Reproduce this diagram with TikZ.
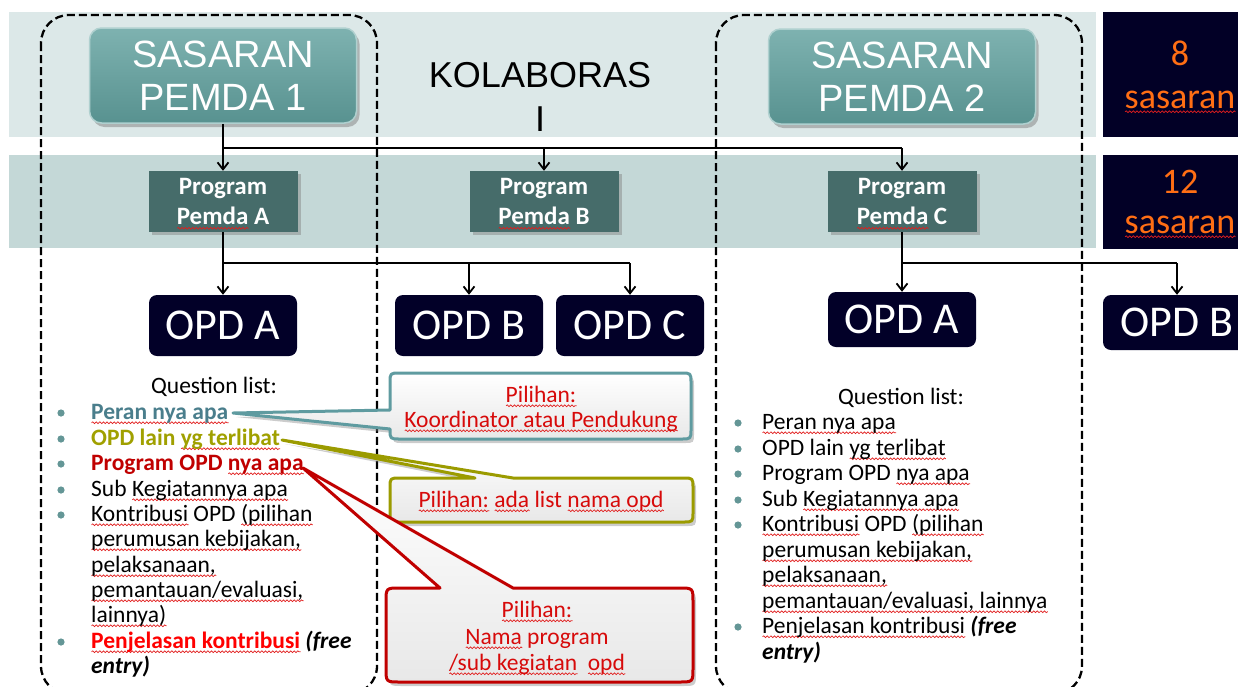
\documentclass[tikz,border=0pt]{standalone}
\usepackage{fontspec}
\setmainfont{Carlito}
\newfontfamily\arialf{Liberation Sans}
\usetikzlibrary{arrows.meta,shadows,decorations.pathmorphing}
\definecolor{bandA}{RGB}{220,232,232}
\definecolor{bandB}{RGB}{196,216,215}
\definecolor{navyc}{RGB}{2,0,40}
\definecolor{navyr}{RGB}{2,0,38}
\definecolor{progc}{RGB}{70,108,106}
\definecolor{sastop}{RGB}{126,178,176}
\definecolor{sasbot}{RGB}{88,146,144}
\definecolor{sasedge}{RGB}{175,208,207}
\definecolor{orangec}{RGB}{255,110,20}
\definecolor{sqred}{RGB}{225,30,30}
\definecolor{tealt}{RGB}{74,126,140}
\definecolor{olivet}{RGB}{160,160,0}
\definecolor{dred}{RGB}{192,0,0}
\definecolor{bred}{RGB}{255,0,0}
\definecolor{cred}{RGB}{215,10,10}
\definecolor{bulc}{RGB}{100,150,150}
\definecolor{tealb}{RGB}{95,155,160}
\definecolor{oliveb}{RGB}{155,155,0}
\definecolor{redb}{RGB}{192,0,0}
\newlength\sqw
\newcommand\sq[1]{\setbox0\hbox{#1}\sqw=\wd0\relax\leavevmode\rlap{\raisebox{-5pt}[0pt][0pt]{\tikz[x=1pt,y=1pt]\draw[sqred,line width=0.7pt,decorate,decoration={snake,amplitude=0.9pt,segment length=3.6pt}] (0,0) -- (\sqw,0);}}\box0\relax}
\newcommand\fq{\fontsize{23.5pt}{25.4pt}\selectfont}
\begin{document}
\begin{tikzpicture}[x=1pt,y=-1pt,
  sasbox/.style={rounded corners=12pt, top color=sastop, bottom color=sasbot, draw=sasedge, line width=1.5pt,
    text=white, font=\arialf\fontsize{38pt}{43pt}\selectfont, align=center,
    minimum width=267pt, minimum height=95pt, inner sep=0pt,
    drop shadow={shadow xshift=3pt, shadow yshift=-4pt, opacity=.5}},
  progbox/.style={fill=progc, text=white, font=\fontsize{25pt}{30pt}\selectfont\bfseries, align=center,
    minimum width=149pt, minimum height=61pt, inner sep=0pt,
    drop shadow={shadow xshift=3pt, shadow yshift=-3pt, opacity=.45}},
  opdbox/.style={fill=navyc, rounded corners=8pt, text=white, font=\fontsize{44pt}{50pt}\selectfont,
    minimum width=148pt, minimum height=61pt, inner sep=0pt},
  numtxt/.style={anchor=base, inner sep=0pt, text=orangec, font=\fontsize{36pt}{43pt}\selectfont},
  conn/.style={line width=2pt, black},
  arr/.style={-{Straight Barb[length=7pt,width=11pt,line width=1.8pt]}},
  dashbox/.style={draw=black, line width=2.3pt, dash pattern=on 8pt off 4pt, rounded corners=28pt},
  qtxt/.style={anchor=base west, inner sep=0pt, font=\fq},
  qhead/.style={anchor=base, inner sep=0pt, font=\fq},
  ctxt/.style={anchor=base, inner sep=0pt, font=\fq, text=cred},
  callout/.style={line width=3pt, line join=round, top color=white, bottom color=black!9,
    drop shadow={shadow xshift=3pt, shadow yshift=-4pt, opacity=.4}},
  bul/.style={fill=bulc}
]
\useasboundingbox (0,0) rectangle (1238,686);
% bands
\fill[bandA] (9,12) rectangle (1096,137);
\fill[bandB] (9,155) rectangle (1096,248);
\fill[navyr] (1103,12) rectangle (1260,137);
\fill[navyr] (1103,155) rectangle (1260,249);
\node[numtxt] (n8) at (1180,65) {8};
\node[numtxt] (s8) at (1180,108) {\sq{sasaran}};
\node[numtxt] (n12) at (1180,193) {12};
\node[numtxt] (s12) at (1180,233) {\sq{sasaran}};
% dashed groups
\draw[dashbox] (41,15) rectangle (377,694);
\draw[dashbox] (716,15) rectangle (1082,694);
% top nodes
\node[sasbox] (sas1) at (223,75.5) {SASARAN\\PEMDA 1};
\node[sasbox] (sas2) at (902,76.5) {SASARAN\\PEMDA 2};
\node[inner sep=0pt, font=\arialf\fontsize{36pt}{44pt}\selectfont, align=center] (kol) at (540,97) {KOLABORAS\\I};
\node[progbox] (prgA) at (223,201.5) {Program\\\sq{Pemda} A};
\node[progbox] (prgB) at (544,201.5) {Program\\\sq{Pemda} B};
\node[progbox] (prgC) at (902,201.5) {Program\\\sq{Pemda} C};
\node[opdbox] (opdA) at (223,325.5) {OPD A};
\node[opdbox] (opdB) at (469,325.5) {OPD B};
\node[opdbox] (opdC) at (630,325.5) {OPD C};
\node[opdbox, minimum height=55pt] (opdA2) at (902,319.5) {OPD A};
\node[opdbox, minimum height=55pt] (opdB2) at (1177,322.5) {OPD B};
% connectors
\coordinate (jr1) at (0,148);
\coordinate (jr2) at (0,263);
\draw[conn] (sas1.south) -- (sas1.south |- jr1) -- (prgC.north |- jr1);
\draw[conn,arr] (sas1.south |- jr1) -- (prgA.north);
\draw[conn,arr] (prgB.north |- jr1) -- (prgB.north);
\draw[conn,arr] (prgC.north |- jr1) -- (prgC.north);
\draw[conn] (prgA.south) -- (prgA.south |- jr2) -- (opdC.north |- jr2);
\draw[conn,arr] (prgA.south |- jr2) -- (opdA.north);
\draw[conn,arr] (opdB.north |- jr2) -- (opdB.north);
\draw[conn,arr] (opdC.north |- jr2) -- (opdC.north);
\draw[conn] (prgC.south) -- (prgC.south |- jr2) -- (opdB2.north |- jr2);
\draw[conn,arr] (prgC.south |- jr2) -- (opdA2.north);
\draw[conn,arr] (opdB2.north |- jr2) -- (opdB2.north);
% callouts
\draw[callout, draw=tealb] (400,373) -- (681,373) .. controls (691,373) .. (691,383) -- (691,429)
  .. controls (691,439) .. (681,439) -- (400,439) .. controls (390,439) .. (390,429)
  -- (233,413) -- (390,410) -- (390,383) .. controls (390,373) .. (400,373) -- cycle;
\draw[callout, draw=oliveb] (400,478) -- (475,478) -- (282,440) -- (513,478) -- (683,478)
  .. controls (693,478) .. (693,488) -- (693,512) .. controls (693,522) .. (683,522)
  -- (400,522) .. controls (390,522) .. (390,512) -- (390,488) .. controls (390,478) .. (400,478) -- cycle;
\draw[callout, draw=redb] (400,588) -- (440,588) -- (303,468) -- (513,588) -- (679,588)
  .. controls (693,588) .. (693,602) -- (693,668) .. controls (693,682) .. (679,682)
  -- (400,682) .. controls (386,682) .. (386,668) -- (386,602) .. controls (386,588) .. (400,588) -- cycle;
\node[ctxt] (c1a) at (541,402) {\sq{Pilihan:}};
\node[ctxt] (c1b) at (541,427) {\sq{Koordinator atau Pendukung}};
\node[ctxt] (c2) at (541,507) {\sq{Pilihan:} \sq{ada} list \sq{nama opd}};
\node[ctxt] (c3a) at (537,617) {\sq{Pilihan:}};
\node[ctxt] (c3b) at (537,644) {\sq{Nama} program};
\node[ctxt] (c3c) at (537,670) {\sq{/sub kegiatan}\ \ \sq{opd}};
% left question list
\node[qhead] (qA) at (214,393) {Question list:};
\node[qtxt] (l1) at (91,419) {\bfseries\color{tealt}\sq{Peran nya apa}};
\node[qtxt] (l2) at (91,445) {\bfseries\color{olivet}OPD lain \sq{yg terlibat}};
\node[qtxt] (l3) at (91,470) {\bfseries\color{dred}Program OPD \sq{nya apa}};
\node[qtxt] (l4) at (91,496) {Sub \sq{Kegiatannya apa}};
\node[qtxt] (l5) at (91,521) {\sq{Kontribusi} OPD \sq{(pilihan}};
\node[qtxt] (l6) at (91,546) {\sq{perumusan kebijakan,}};
\node[qtxt] (l7) at (91,572) {\sq{pelaksanaan,}};
\node[qtxt] (l8) at (91,597) {\sq{pemantauan/evaluasi,}};
\node[qtxt] (l9) at (91,622) {\sq{lainnya)}};
\node[qtxt] (l10) at (91,648) {{\bfseries\color{bred}\sq{Penjelasan kontribusi}} \textbf{\textit{(free}}};
\node[qtxt] (l11) at (91,673) {\textbf{\textit{entry)}}};
\foreach \yy in {413,439,464,490,515,642} \fill[bul] (61,\yy) circle (3.6);
% right question list
\node[qhead] (qB) at (901,404) {Question list:};
\node[qtxt] (r1) at (762,429) {\sq{Peran nya apa}};
\node[qtxt] (r2) at (762,455) {OPD lain \sq{yg terlibat}};
\node[qtxt] (r3) at (762,480) {Program OPD \sq{nya apa}};
\node[qtxt] (r4) at (762,506) {Sub \sq{Kegiatannya apa}};
\node[qtxt] (r5) at (762,531) {\sq{Kontribusi} OPD \sq{(pilihan}};
\node[qtxt] (r6) at (762,557) {\sq{perumusan kebijakan,}};
\node[qtxt] (r7) at (762,582) {\sq{pelaksanaan,}};
\node[qtxt] (r8) at (762,608) {\sq{pemantauan/evaluasi, lainnya}};
\node[qtxt] (r9) at (762,633) {\sq{Penjelasan kontribusi} \textbf{\textit{(free}}};
\node[qtxt] (r10) at (762,659) {\textbf{\textit{entry)}}};
\foreach \yy in {423,449,474,500,525,627} \fill[bul] (738,\yy) circle (3.6);
\end{tikzpicture}
\end{document}
